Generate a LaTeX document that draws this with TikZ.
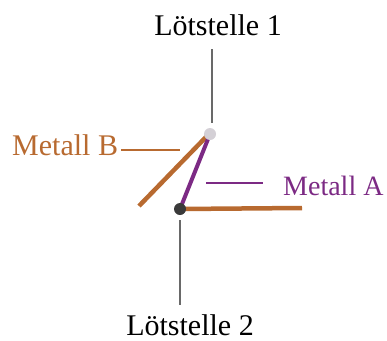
\documentclass[tikz,border=0pt]{standalone}
\usepackage{fontspec}
\setmainfont{Liberation Serif}
\definecolor{orangeM}{RGB}{184,106,48}
\definecolor{purpleM}{RGB}{124,42,132}
\definecolor{greyL}{RGB}{105,105,105}
\definecolor{dotLight}{RGB}{212,208,214}
\definecolor{dotDark}{RGB}{58,58,58}
\tikzset{
  lbl/.style={font=\fontsize{30}{34}\selectfont, inner sep=0pt},
  lblA/.style={font=\fontsize{28}{32}\selectfont, inner sep=0pt},
  wireB/.style={draw=orangeM, line width=4.5pt},
  wireA/.style={draw=purpleM, line width=4pt},
  leader/.style={line width=1.2pt},
  junc/.style={circle, inner sep=0pt, minimum size=12pt},
}
\begin{document}
\begin{tikzpicture}[x=1pt,y=-1pt]
\useasboundingbox (0,0) rectangle (387,340);
% labels
\node[lbl, anchor=base] (l1) at (218,35) {Lötstelle 1};
\node[lbl, anchor=base] (l2) at (190,335) {Lötstelle 2};
\node[lbl, anchor=base west, text=orangeM] (mb) at (12,155) {Metall B};
\node[lblA, anchor=base west, text=purpleM] (ma) at (283,195) {Metall A};
% coordinates
\coordinate (b1) at (139,206);
\coordinate (b2) at (207,136);
\coordinate (e2) at (302,208);
\coordinate (l1a) at (212,49);
\coordinate (l1b) at (212,123);
\coordinate (l2a) at (180,220);
\coordinate (l2b) at (180,305);
\coordinate (mbs) at (121,150);
\coordinate (mbend) at (180,150);
\coordinate (maa) at (206,183);
\coordinate (mab) at (263,183);
% junction positions
\coordinate (j1pos) at (210,134);
\coordinate (j2pos) at (180,209);
% wires
\draw[wireB] (b1) -- (b2);
\draw[wireB] (j2pos) -- (e2);
\draw[wireA] (j1pos) -- (j2pos);
% junctions
\node[junc, fill=dotLight] (j1) at (j1pos) {};
\node[junc, fill=dotDark] (j2) at (j2pos) {};
% leaders
\draw[leader, greyL] (l1a) -- (l1b);
\draw[leader, greyL] (l2a) -- (l2b);
\draw[leader, orangeM] (mbs) -- (mbend);
\draw[leader, purpleM] (maa) -- (mab);
\end{tikzpicture}
\end{document}
